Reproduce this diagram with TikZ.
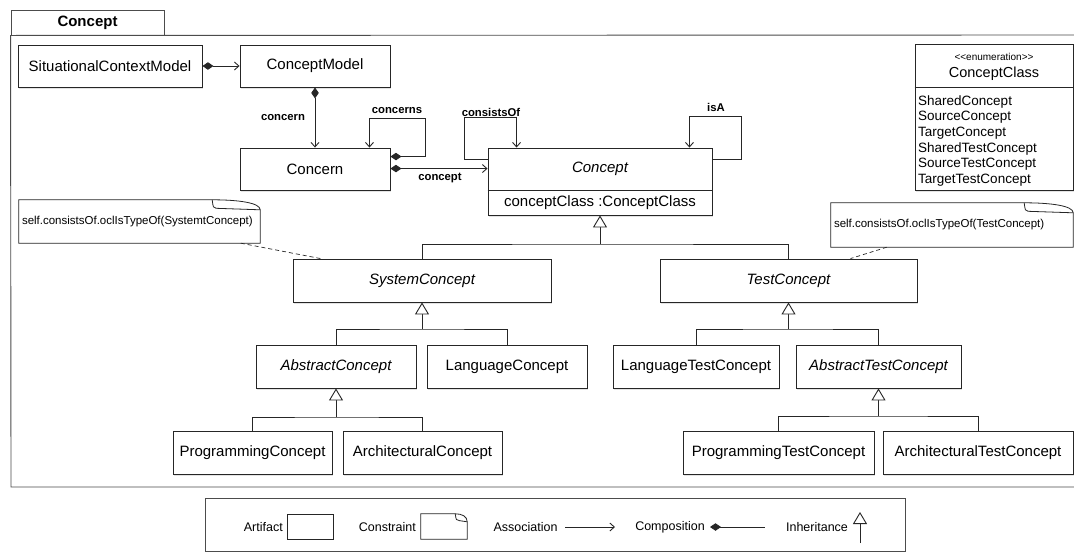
\documentclass[tikz,border=0pt]{standalone}
\usepackage{fontspec}
\setmainfont{Liberation Sans}
\usetikzlibrary{arrows.meta,shadows,calc}
\newcommand{\drawnote}[3]{%
  \draw[noteline] (#1.north west) -- ([xshift=-#2pt]#1.north east)
    .. controls ([xshift=-0.45*#2pt]#1.north east) and ([yshift=-0.3*#3pt]#1.north east) .. ([yshift=-#3pt]#1.north east)
    -- (#1.south east) -- (#1.south west) -- cycle;
  \draw[noteline] ([xshift=-#2pt]#1.north east)
    .. controls ([xshift=-#2pt+1pt,yshift=-0.8*#3pt]#1.north east) .. ([xshift=-#2pt+4pt,yshift=-0.85*#3pt]#1.north east)
    -- ([yshift=-#3pt]#1.north east);}
\begin{document}
\begin{tikzpicture}[x=1pt,y=-1pt,
  sz/.style 2 args={minimum width=#1pt, minimum height=#2pt},
  cls/.style={draw=black!85, line width=0.9pt, fill=white, inner sep=0pt,
    font=\fontsize{15}{18}\selectfont,
    drop shadow={shadow xshift=1.2pt, shadow yshift=-1.5pt, opacity=0.22}},
  txt/.style={inner sep=0pt, font=\fontsize{15}{18}\selectfont},
  lbl/.style={font=\fontsize{11.3}{13}\selectfont\bfseries, inner sep=0pt},
  conn/.style={line width=0.9pt, draw=black!85},
  assoc/.style={conn, -{Straight Barb[length=4.5pt,width=8pt]}},
  comp/.style={conn, {Diamond[length=11pt,width=7.5pt]}-{Straight Barb[length=4.5pt,width=8pt]}},
  gen/.style={conn, -{Triangle[open,length=12pt,width=14pt,fill=white]}},
  noteline/.style={line width=0.8pt, draw=black!85},
  notetxt/.style={font=\fontsize{11.5}{13}\selectfont, inner sep=0pt, align=left},
  legtxt/.style={font=\fontsize{12.5}{14}\selectfont, inner sep=0pt},
  frameline/.style={line width=0.9pt, draw=black!70},
  enumitem/.style={font=\fontsize{13.5}{15}\selectfont, inner sep=0pt, anchor=base west}
]
\useasboundingbox (0,0) rectangle (1074,552);
\fill[white] (0,0) rectangle (1074,552);

% package frame
\node[draw=black!70, line width=0.9pt, sz={153}{25}, inner sep=0pt,
      font=\fontsize{15}{18}\selectfont\bfseries] (pkgtab) at (87.5,22.5) {Concept};
\draw[frameline] (1074,35) -- (pkgtab.south west) -- (11,487) -- (1074,487);

% classes
\node[cls, sz={184}{42}] (scm) at (110,66) {SituationalContextModel};
\node[cls, sz={150}{42}] (cm) at (315,66) {ConceptModel};
\node[cls, sz={150}{42}] (concern) at (315,169) {Concern};
\node[cls, sz={224}{67}] (concept) at (600,181.5) {};
\node[txt] (conceptname) at (600,169) {\itshape Concept};
\draw[conn] (concept.west |- 0,190) -- (concept.east |- 0,190);
\node[txt] (conceptattr) at (600,202.5) {conceptClass :ConceptClass};

% enumeration
\node[cls, sz={158}{146}] (enum) at (994,117) {};
\node[inner sep=0pt, font=\fontsize{10}{12}\selectfont] (enumst) at (994,57) {<{}<enumeration>{}>};
\node[inner sep=0pt, font=\fontsize{14.5}{17}\selectfont] (enumname) at (994,73.5) {ConceptClass};
\draw[conn] (enum.west |- 0,87) -- (enum.east |- 0,87);
\node[enumitem] (e1) at (918,105) {SharedConcept};
\node[enumitem] (e2) at (918,120.7) {SourceConcept};
\node[enumitem] (e3) at (918,136.4) {TargetConcept};
\node[enumitem] (e4) at (918,152.1) {SharedTestConcept};
\node[enumitem] (e5) at (918,167.8) {SourceTestConcept};
\node[enumitem] (e6) at (918,183.5) {TargetTestConcept};

% hierarchy
\node[cls, sz={258}{43}] (sys) at (422,280.5) {\itshape SystemConcept};
\node[cls, sz={257}{43}] (tc) at (788.5,280.5) {\itshape TestConcept};
\node[cls, sz={160}{43}] (ac) at (336,366.5) {\itshape AbstractConcept};
\node[cls, sz={160}{43}] (lc) at (507,366.5) {LanguageConcept};
\node[cls, sz={166}{43}] (ltc) at (696,366.5) {LanguageTestConcept};
\node[cls, sz={165}{43}] (atc) at (878.5,366.5) {\itshape AbstractTestConcept};
\node[cls, sz={159}{43}] (pc) at (252.5,452.5) {ProgrammingConcept};
\node[cls, sz={159}{43}] (arc) at (422.5,452.5) {ArchitecturalConcept};
\node[cls, sz={191}{43}] (ptc) at (778.5,452.5) {ProgrammingTestConcept};
\node[cls, sz={190}{43}] (artc) at (978,452.5) {ArchitecturalTestConcept};

% associations / compositions
\draw[comp] (scm.east) -- (cm.west);
\draw[comp] (cm.south) -- (concern.north);
\node[lbl] (lconcern) at (283,118) {concern};
\draw[comp] ([yshift=-9pt]concern.north east) -- ++(35,0) -- ++(0,-38) -| ([xshift=-21pt]concern.north east);
\node[lbl] (lconcerns) at (397,111) {concerns};
\coordinate (c1) at ([yshift=-21pt]concern.north east);
\draw[comp] (c1) -- (c1 -| concept.west);
\node[lbl] (lconcept) at (440,178) {concept};
\draw[assoc] ([yshift=-12pt]concept.north west) -- ++(-23,0) -- ++(0,-42) -| ([xshift=29pt]concept.north west);
\node[lbl] (lconsists) at (491,112) {consistsOf};
\draw[assoc] ([yshift=-12pt]concept.north east) -- ++(29,0) -- ++(0,-43) -| ([xshift=-23pt]concept.north east);
\node[lbl] (lisa) at (716,107.5) {isA};

% generalizations
\coordinate (b1) at (600,244);
\draw[conn] (sys.north) |- (b1) -| (tc.north);
\draw[gen] (b1) -- (concept.south);
\coordinate (b2) at (sys.south |- 0,329);
\draw[conn] (ac.north) |- (b2) -| (lc.north);
\draw[gen] (b2) -- (sys.south);
\coordinate (b3) at (ac.south |- 0,417);
\draw[conn] (pc.north) |- (b3) -| (arc.north);
\draw[gen] (b3) -- (ac.south);
\coordinate (b4) at (tc.south |- 0,329);
\draw[conn] (ltc.north) |- (b4) -| (atc.north);
\draw[gen] (b4) -- (tc.south);
\coordinate (b5) at (atc.south |- 0,416);
\draw[conn] (ptc.north) |- (b5) -| (artc.north);
\draw[gen] (b5) -- (atc.south);

% constraints
\node[notetxt, text width=235pt, sz={241}{43}, inner xsep=3pt] (n1) at (139.5,221.5)
  {self.consistsOf.oclIsTypeOf(SystemtConcept)};
\drawnote{n1}{48}{10}
\node[notetxt, text width=236pt, sz={242}{44}, inner xsep=3pt] (n2) at (952,225)
  {self.consistsOf.oclIsTypeOf(TestConcept)};
\drawnote{n2}{49}{10}
\draw[conn, line width=0.7pt, dash pattern=on 4pt off 3pt] ([xshift=222pt]n1.south west) -- ([xshift=28pt]sys.north west);
\draw[conn, line width=0.7pt, dash pattern=on 4pt off 3pt] ([xshift=56pt]n2.south west) -- ([xshift=191pt]tc.north west);

% legend
\draw[frameline] (205,551) -- (205,498) -- (905,498) -- (905,551) -- cycle;
\node[legtxt, anchor=east] (lart) at (283,527) {Artifact};
\node[draw=black!85, line width=0.8pt, sz={46}{25}, inner sep=0pt] (legart) at (310,526.5) {};
\node[legtxt, anchor=east] (lcon) at (416,527) {Constraint};
\node[sz={46}{25}, inner sep=0pt] (legcon) at (444,526.5) {};
\drawnote{legcon}{12}{8}
\node[legtxt] (lass) at (525.5,527) {Association};
\coordinate (as1) at (565,527);
\coordinate (as2) at (615,527);
\draw[assoc] (as1) -- (as2);
\node[legtxt] (lcomp) at (670,527) {Composition};
\coordinate (cp1) at (710,527);
\coordinate (cp2) at (765,527);
\draw[conn, {Diamond[length=11pt,width=7.5pt]}-] (cp1) -- (cp2);
\node[legtxt] (linh) at (817,527) {Inheritance};
\coordinate (ih1) at (860,543);
\coordinate (ih2) at (860,512);
\draw[gen] (ih1) -- (ih2);
\end{tikzpicture}
\end{document}
